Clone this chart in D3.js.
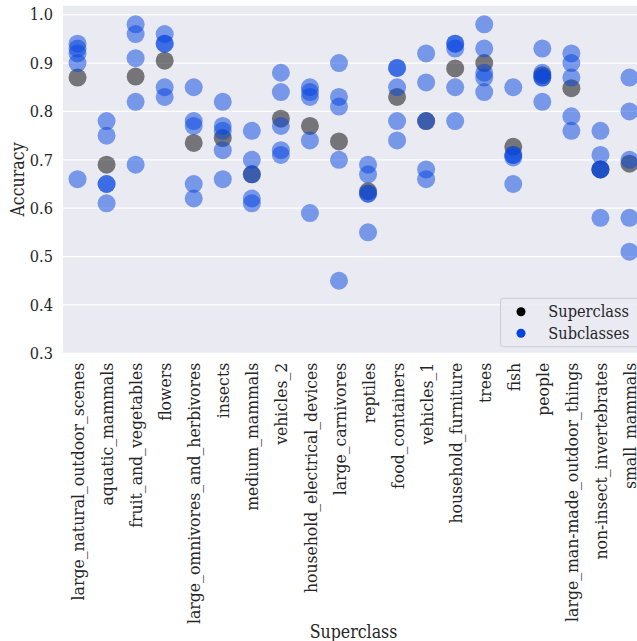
<!DOCTYPE html>
<html>
<head>
<meta charset="utf-8">
<script src="https://cdn.jsdelivr.net/npm/d3@7"></script>
<style>
  html, body { margin: 0; padding: 0; background: #fff; }
  svg { display: block; }
  text { font-family: "DejaVu Serif Condensed", "DejaVu Serif", serif; font-stretch: condensed; fill: #262626; }
</style>
</head>
<body>
<div id="chart"></div>
<script>
// --- data -------------------------------------------------------------
var categories = [
  "large_natural_outdoor_scenes", "aquatic_mammals", "fruit_and_vegetables",
  "flowers", "large_omnivores_and_herbivores", "insects", "medium_mammals",
  "vehicles_2", "household_electrical_devices", "large_carnivores", "reptiles",
  "food_containers", "vehicles_1", "household_furniture", "trees", "fish",
  "people", "large_man-made_outdoor_things", "non-insect_invertebrates",
  "small_mammals"
];

// superclass accuracy (black dots)
var superAcc = [0.87, 0.69, 0.872, 0.905, 0.735, 0.745, 0.67, 0.785, 0.77, 0.738,
                0.635, 0.83, 0.78, 0.889, 0.90, 0.727, 0.875, 0.848, 0.68, 0.692];

// five subclass accuracies per superclass (blue dots)
var subAcc = [
  [0.94, 0.93, 0.92, 0.90, 0.66],
  [0.78, 0.75, 0.65, 0.65, 0.61],
  [0.98, 0.96, 0.91, 0.82, 0.69],
  [0.96, 0.94, 0.94, 0.85, 0.83],
  [0.85, 0.78, 0.77, 0.65, 0.62],
  [0.82, 0.77, 0.76, 0.72, 0.66],
  [0.76, 0.70, 0.67, 0.62, 0.61],
  [0.88, 0.84, 0.77, 0.72, 0.71],
  [0.85, 0.84, 0.83, 0.74, 0.59],
  [0.90, 0.83, 0.81, 0.70, 0.45],
  [0.69, 0.67, 0.63, 0.63, 0.55],
  [0.89, 0.89, 0.85, 0.78, 0.74],
  [0.92, 0.86, 0.78, 0.68, 0.66],
  [0.94, 0.94, 0.93, 0.85, 0.78],
  [0.98, 0.93, 0.88, 0.87, 0.84],
  [0.85, 0.71, 0.71, 0.705, 0.65],
  [0.93, 0.88, 0.87, 0.87, 0.82],
  [0.92, 0.90, 0.87, 0.79, 0.76],
  [0.76, 0.71, 0.68, 0.68, 0.58],
  [0.87, 0.80, 0.70, 0.58, 0.51]
];

var yTicks = [0.3, 0.4, 0.5, 0.6, 0.7, 0.8, 0.9, 1.0];

// --- layout -----------------------------------------------------------
var W = 637, H = 641;
var plot = { left: 63, right: 644, top: 5.7, bottom: 353.3 };
var BLUE = "#0343df";
var FS = "16.2px";      // y ticks + legend
var FS_X = "17.4px";    // rotated category labels
var FS_T = "17.6px";    // axis titles

var svg = d3.select("#chart").append("svg")
  .attr("width", W).attr("height", H);

var x = d3.scalePoint().domain(categories)
  .range([plot.left, plot.right]).padding(0.5);
var y = d3.scaleLinear().domain([0.3, 1.0186])
  .range([plot.bottom, plot.top]);

// background
svg.append("rect")
  .attr("x", plot.left).attr("y", plot.top)
  .attr("width", plot.right - plot.left).attr("height", plot.bottom - plot.top)
  .attr("fill", "#eaeaf2");

// horizontal gridlines
svg.append("g").selectAll("line").data(yTicks).enter().append("line")
  .attr("x1", plot.left).attr("x2", plot.right)
  .attr("y1", function (d) { return y(d); })
  .attr("y2", function (d) { return y(d); })
  .attr("stroke", "#fff").attr("stroke-width", 1.2);

// y axis (no tick marks, darkgrid style)
var yAx = svg.append("g")
  .attr("transform", "translate(" + plot.left + ",0)")
  .call(d3.axisLeft(y).tickValues(yTicks).tickSize(0).tickPadding(10)
    .tickFormat(d3.format(".1f")));
yAx.select(".domain").remove();
yAx.selectAll("text").style("font-size", FS).style("font-family", null)
  .attr("fill", "#262626");

// x axis, labels rotated
var xAx = svg.append("g")
  .attr("transform", "translate(0," + plot.bottom + ")")
  .call(d3.axisBottom(x).tickSize(0).tickPadding(0));
xAx.select(".domain").remove();
xAx.selectAll("text")
  .style("font-size", FS_X).style("font-family", null)
  .attr("fill", "#262626")
  .attr("text-anchor", "end")
  .attr("y", 0)
  .attr("transform", "translate(0,9.5) rotate(-90)")
  .attr("dy", "0.35em");

// axis titles
svg.append("text")
  .attr("transform", "translate(17.5," + ((plot.top + plot.bottom) / 2) + ") rotate(-90)")
  .attr("text-anchor", "middle").attr("dy", "0.35em")
  .style("font-size", FS_T).text("Accuracy");
svg.append("text")
  .attr("x", (plot.left + plot.right) / 2).attr("y", 631.5)
  .attr("text-anchor", "middle").attr("dy", "0.35em")
  .style("font-size", FS_T).text("Superclass");

// --- dots -------------------------------------------------------------
var R = 9;
var dots = svg.append("g");

dots.selectAll(".sup").data(categories).enter().append("circle")
  .attr("class", "sup")
  .attr("cx", function (c) { return x(c); })
  .attr("cy", function (c, i) { return y(superAcc[i]); })
  .attr("r", R).attr("fill", "#000").attr("fill-opacity", 0.5);

var subPts = [];
categories.forEach(function (c, i) {
  subAcc[i].forEach(function (v) { subPts.push({ cat: c, v: v }); });
});
dots.selectAll(".sub").data(subPts).enter().append("circle")
  .attr("class", "sub")
  .attr("cx", function (d) { return x(d.cat); })
  .attr("cy", function (d) { return y(d.v); })
  .attr("r", R).attr("fill", BLUE).attr("fill-opacity", 0.5);

// --- legend -----------------------------------------------------------
var lg = svg.append("g").attr("transform", "translate(500.5,298.3)");
lg.append("rect")
  .attr("width", 140).attr("height", 48.4).attr("rx", 3)
  .attr("fill", "#eaeaf2").attr("fill-opacity", 0.8)
  .attr("stroke", "#cccccc").attr("stroke-width", 1);
var items = [{ label: "Superclass", color: "#000" }, { label: "Subclasses", color: BLUE }];
var li = lg.selectAll(".li").data(items).enter().append("g")
  .attr("transform", function (d, i) { return "translate(0," + (13.4 + i * 21.6) + ")"; });
li.append("circle").attr("cx", 20.5).attr("cy", 0).attr("r", 4.5)
  .attr("fill", function (d) { return d.color; });
li.append("text").attr("x", 47.8).attr("dy", "0.35em")
  .style("font-size", FS).text(function (d) { return d.label; });
</script>
</body>
</html>
